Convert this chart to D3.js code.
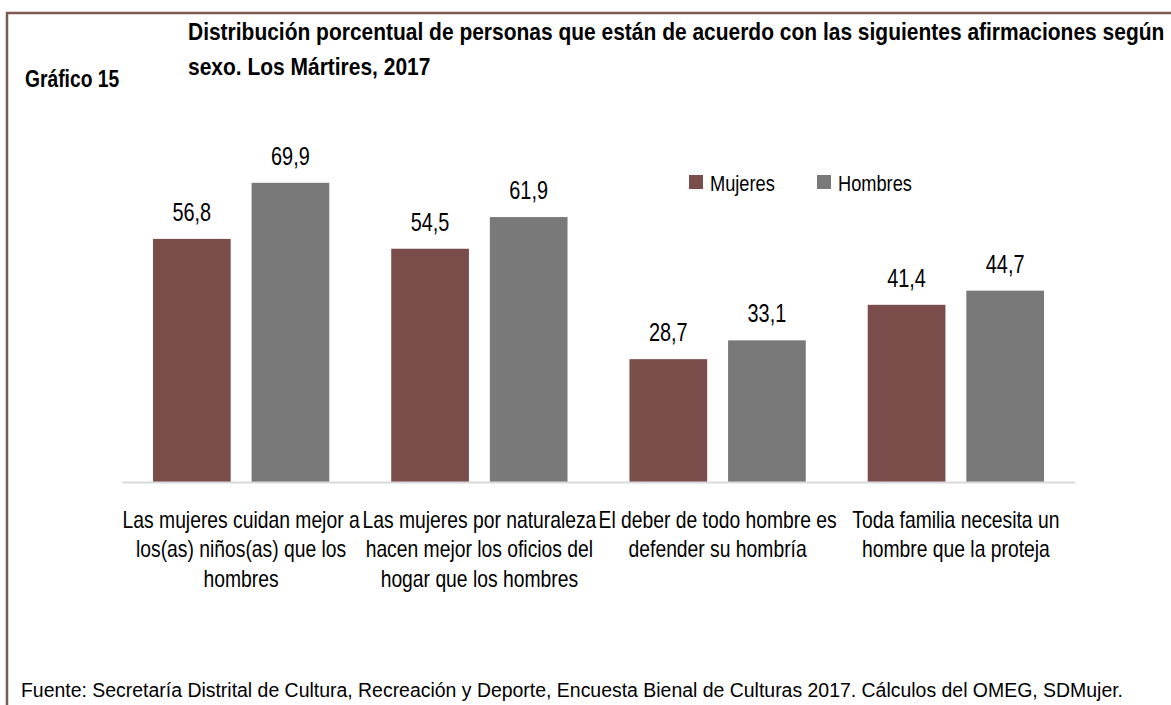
<!DOCTYPE html>
<html>
<head>
<meta charset="utf-8">
<script src="https://cdn.jsdelivr.net/npm/d3@7"></script>
<style>
  body { margin: 0; background: #fff; }
  svg text { font-family: "Liberation Sans", Arial, sans-serif; fill: #000; }
</style>
</head>
<body>
<svg class="chart" width="1171" height="705"></svg>
<script>
// data
const categories = [
    ["Las mujeres cuidan mejor a", "los(as) niños(as) que los", "hombres"],
    ["Las mujeres por naturaleza", "hacen mejor los oficios del", "hogar que los hombres"],
    ["El deber de todo hombre es", "defender su hombría"],
    ["Toda familia necesita un", "hombre que la proteja"]
];
const seriesNames = ["Mujeres", "Hombres"];
const mujeres = [56.8, 54.5, 28.7, 41.4];
const hombres = [69.9, 61.9, 33.1, 44.7];
const colors = ["#7b4d4a", "#797979"];

let svg = d3.select("svg.chart");

// squeeze text horizontally around its anchor x (source font is a condensed one)
function condense(sel, k, x) {
    sel.attr("transform", "translate(" + x + ",0) scale(" + k + ",1) translate(" + (-x) + ",0)");
}

// frame
svg.append("path")
    .attr("d", "M7,706 L7,13 L1180,13")
    .attr("fill", "none")
    .attr("stroke", "#7b5a52")
    .attr("stroke-width", 2.5);

let g15 = svg.append("text")
    .attr("x", 25).attr("y", 87)
    .style("font-size", "23.5px").style("font-weight", "bold")
    .text("Gráfico 15");
condense(g15, 0.82, 25);

let title = svg.append("text")
    .style("font-size", "23px").style("font-weight", "bold");
title.append("tspan").attr("x", 188).attr("y", 40)
    .text("Distribución porcentual de personas que están de acuerdo con las siguientes afirmaciones según");
title.append("tspan").attr("x", 188).attr("y", 75)
    .text("sexo. Los Mártires, 2017");
condense(title, 0.912, 188);

let plot = {left: 122, right: 1075, base: 482};

let data = categories.map(function(c, i) {
    return {key: i, values: [mujeres[i], hombres[i]]};
});

//define scales
let x0 = d3.scaleBand()
    .domain(d3.range(categories.length))
    .range([plot.left, plot.right])
    .paddingInner(0.26)
    .paddingOuter(0.13);
let x1 = d3.scaleBand()
    .domain(d3.range(seriesNames.length))
    .range([0, x0.bandwidth()])
    .paddingInner(0.212);
let y = d3.scaleLinear().domain([0, 80]).range([plot.base, plot.base - 80 * 4.28]);

let groups = svg.selectAll(".group")
    .data(data)
    .enter()
    .append("g")
    .attr("class", "group")
    .attr("transform", function(d) { return "translate(" + x0(d.key) + ",0)"; });

groups.selectAll("rect")
    .data(function(d) { return d.values; })
    .enter()
    .append("rect")
    .attr("x", function(d, i) { return x1(i); })
    .attr("y", function(d) { return y(d); })
    .attr("width", x1.bandwidth())
    .attr("height", function(d) { return y(0) - y(d); })
    .style("fill", function(d, i) { return colors[i]; });

groups.selectAll(".val")
    .data(function(d) { return d.values; })
    .enter()
    .append("text")
    .attr("class", "val")
    .attr("x", function(d, i) { return x1(i) + x1.bandwidth() / 2; })
    .attr("y", function(d) { return y(d) - 18; })
    .attr("text-anchor", "middle")
    .style("font-size", "25.5px")
    .text(function(d) { return d.toFixed(1).replace(".", ","); })
    .each(function(d, i) { condense(d3.select(this), 0.78, x1(i) + x1.bandwidth() / 2); });

// x axis
let xAxis = svg.append("g")
    .attr("transform", "translate(0," + plot.base + ")")
    .call(d3.axisBottom(x0).tickSize(0).tickFormat(""));
xAxis.select(".domain").attr("stroke", "#d9d9d9").attr("stroke-width", 2);

let labels = svg.selectAll(".cat")
    .data(categories)
    .enter()
    .append("text")
    .attr("class", "cat")
    .attr("text-anchor", "middle")
    .style("font-size", "23px");
labels.each(function(lines, i) {
    let t = d3.select(this);
    let cx = x0(i) + x0.bandwidth() / 2;
    lines.forEach(function(line, j) {
        t.append("tspan")
            .attr("x", cx)
            .attr("y", 528 + j * 29.5)
            .text(line);
    });
    condense(t, 0.84, cx);
});

// legend
let legend = svg.selectAll(".legend")
    .data(seriesNames)
    .enter()
    .append("g")
    .attr("class", "legend")
    .attr("transform", function(d, i) { return "translate(" + (689 + i * 128) + ",175)"; });
legend.append("rect")
    .attr("width", 14).attr("height", 14)
    .style("fill", function(d, i) { return colors[i]; });
legend.append("text")
    .attr("x", 21).attr("y", 16)
    .style("font-size", "22.5px")
    .text(function(d) { return d; })
    .each(function() { condense(d3.select(this), 0.81, 21); });

svg.append("text")
    .attr("x", 21).attr("y", 697)
    .attr("textLength", 1102)
    .attr("lengthAdjust", "spacingAndGlyphs")
    .style("font-size", "19.5px")
    .text("Fuente: Secretaría Distrital de Cultura, Recreación y Deporte, Encuesta Bienal de Culturas 2017. Cálculos del OMEG, SDMujer.");
</script>
</body>
</html>
